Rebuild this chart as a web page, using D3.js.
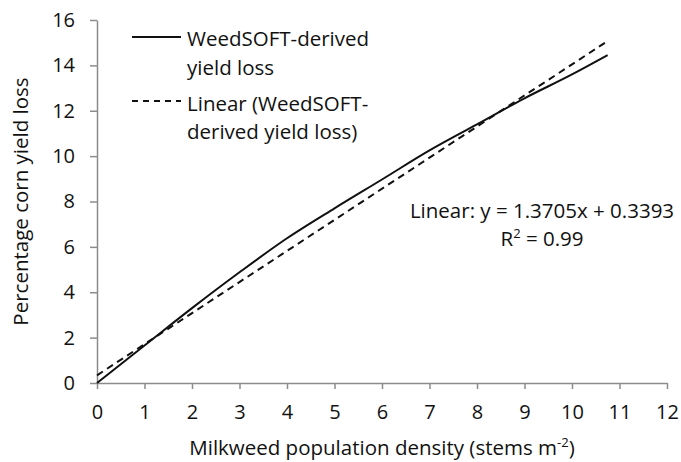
<!DOCTYPE html>
<html>
<head>
<meta charset="utf-8">
<script src="https://cdn.jsdelivr.net/npm/d3@7"></script>
<style>
  body { margin: 0; background: #fff; }
  svg text { font-family: "Open Sans", sans-serif; fill: #111; }
</style>
</head>
<body>
<svg id="chart" width="681" height="462"></svg>
<script>
// data
var density = [0, 1, 2, 3, 4, 5, 6, 7, 8, 9, 10, 10.75];
var yieldLoss = [0, 1.65, 3.3, 4.88, 6.38, 7.7, 8.97, 10.25, 11.4, 12.55, 13.6, 14.45];
var trendSlope = 1.3705,
    trendIntercept = 0.3393;
var xTicks = [0, 1, 2, 3, 4, 5, 6, 7, 8, 9, 10, 11, 12];
var yTicks = [0, 2, 4, 6, 8, 10, 12, 14, 16];

var margin = { top: 20, right: 14, bottom: 79, left: 97 },
    width = 681 - margin.left - margin.right,
    height = 462 - margin.top - margin.bottom;

var fs = '20.5px';

var svg = d3.select('#chart');
var g = svg.append('g')
    .attr('transform', 'translate(' + margin.left + ',' + margin.top + ')');

var x = d3.scaleLinear().domain([0, 12]).range([0, width]);
var y = d3.scaleLinear().domain([0, 16]).range([height, 0]);

// axes
var xAxis = g.append('g')
    .attr('transform', 'translate(0,' + height + ')')
    .call(d3.axisBottom(x).tickValues(xTicks).tickSize(6).tickPadding(16).tickSizeOuter(0));
var yAxis = g.append('g')
    .call(d3.axisLeft(y).tickValues(yTicks).tickSize(7).tickPadding(15).tickSizeOuter(0));

[xAxis, yAxis].forEach(function(a) {
    a.selectAll('path, line').attr('stroke', '#8c8c8c').attr('stroke-width', 1.5);
    a.selectAll('text').style('font-size', '20px').attr('fill', '#111');
});

// trend line
var trend = [0, 10.75].map(function(d) { return [d, trendSlope * d + trendIntercept]; });
g.append('path')
    .datum(trend)
    .attr('fill', 'none')
    .attr('stroke', '#111')
    .attr('stroke-width', 2)
    .attr('stroke-dasharray', '7,5')
    .attr('d', d3.line().x(function(d) { return x(d[0]); }).y(function(d) { return y(d[1]); }));

// WeedSOFT curve
g.append('path')
    .datum(density.map(function(d, i) { return [d, yieldLoss[i]]; }))
    .attr('fill', 'none')
    .attr('stroke', '#111')
    .attr('stroke-width', 2)
    .attr('d', d3.line().curve(d3.curveMonotoneX)
        .x(function(d) { return x(d[0]); })
        .y(function(d) { return y(d[1]); }));

// legend
var legend = svg.append('g');
legend.append('line').attr('x1', 132).attr('x2', 181).attr('y1', 37).attr('y2', 37)
    .attr('stroke', '#111').attr('stroke-width', 2);
legend.append('line').attr('x1', 132).attr('x2', 181).attr('y1', 101).attr('y2', 101)
    .attr('stroke', '#111').attr('stroke-width', 2).attr('stroke-dasharray', '6,5');
var legendText = [
    ['WeedSOFT-derived', 46],
    ['yield loss', 75],
    ['Linear (WeedSOFT-', 111],
    ['derived yield loss)', 139]
];
legend.selectAll('text.leg')
    .data(legendText)
    .enter().append('text')
    .attr('class', 'leg')
    .attr('x', 187)
    .attr('y', function(d) { return d[1]; })
    .style('font-size', fs)
    .text(function(d) { return d[0]; });

// equation
svg.append('text')
    .attr('x', 542).attr('y', 218)
    .attr('text-anchor', 'middle')
    .style('font-size', fs)
    .text('Linear: y = ' + trendSlope + 'x + ' + trendIntercept);
var r2 = svg.append('text')
    .attr('x', 542).attr('y', 246)
    .attr('text-anchor', 'middle')
    .style('font-size', fs);
r2.append('tspan').text('R');
r2.append('tspan').attr('dy', -8).style('font-size', '13px').text('2');
r2.append('tspan').attr('dy', 8).text(' = 0.99');

// axis titles
var xt = svg.append('text')
    .attr('x', margin.left + width / 2).attr('y', 455)
    .attr('text-anchor', 'middle')
    .style('font-size', fs);
xt.append('tspan').text('Milkweed population density (stems m');
xt.append('tspan').attr('dy', -8).style('font-size', '13px').text('-2');
xt.append('tspan').attr('dy', 8).text(')');

svg.append('text')
    .attr('transform', 'translate(28,' + (margin.top + height / 2) + ') rotate(-90)')
    .attr('text-anchor', 'middle')
    .style('font-size', fs)
    .text('Percentage corn yield loss');
</script>
</body>
</html>
